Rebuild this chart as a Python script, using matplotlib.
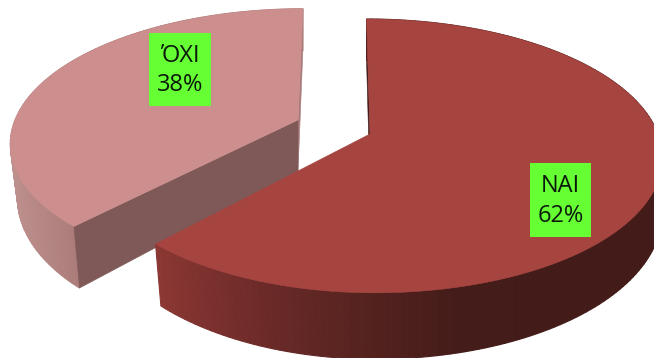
import numpy as np
import matplotlib
matplotlib.use("Agg")
import matplotlib.pyplot as plt
from matplotlib.colors import LinearSegmentedColormap, Normalize
from matplotlib.patches import Rectangle

categories = ["ΝΑΙ", "ΌΧΙ"]
shares = [62, 38]

plt.rcParams["font.family"] = ["Open Sans", "Noto Sans", "DejaVu Sans"]

fig = plt.figure(figsize=(6.54, 3.58), dpi=100)
ax = fig.add_axes([0, 0, 1, 1])
ax.set_xlim(0, 654)
ax.set_ylim(358, 0)
ax.axis("off")

K = 0.16


def project(ux, uy, cx, cy, a_left, a_right, b, shear, depth=False):
    ux, uy = np.asarray(ux, float), np.asarray(uy, float)
    den = 1 + K * uy
    a = np.where(ux < 0, a_left, a_right)
    X = a * ux / den
    Y = b * uy / den
    X = X + shear * Y
    if depth:
        scale = np.where(ux < 0, 0.975, 1.0)
        return cx + scale * X, cy - Y + 52 - 0.09 * Y
    return cx + X, cy - Y


def ring(theta, *geom, depth=False):
    return project(np.sin(theta), np.cos(theta), *geom, depth=depth)


def side(theta, geom, cmap, norm, z):
    xt, yt = ring(theta, *geom)
    xb, yb = ring(theta, *geom, depth=True)
    for i in range(len(theta) - 1):
        c = cmap(norm(0.5 * (xt[i] + xt[i + 1])))
        ax.fill([xt[i], xt[i + 1], xb[i + 1], xb[i]],
                [yt[i], yt[i + 1], yb[i + 1], yb[i]],
                color=c, lw=0.8, zorder=z)


def top(theta, geom, color, z):
    x, y = ring(theta, *geom)
    x0, y0 = project(0.0, 0.0, *geom)
    ax.fill(np.r_[x0, x], np.r_[y0, y], color=color, lw=0.4, zorder=z)


def radial_face(t, geom, color, z):
    x0, y0 = project(0.0, 0.0, *geom)
    x1, y1 = ring(np.array(t), *geom)
    x2, y2 = ring(np.array(t), *geom, depth=True)
    x3, y3 = project(0.0, 0.0, *geom, depth=True)
    ax.fill([x0, x1, x2, x3], [y0, y1, y2, y3], color=color, lw=0.4, zorder=z)


total = sum(shares)
split = 2 * np.pi * shares[0] / total

red_geom = (370, 134, 281, 288, 133.4, -0.03)
pink_geom = (298, 120, 283, 283, 129, 0.045)

pink_cmap = LinearSegmentedColormap.from_list("p", ["#bd8f8d", "#a97a78"])
red_cmap = LinearSegmentedColormap.from_list(
    "r", ["#8b3733", "#6d2b29", "#562320", "#441c19", "#431b18"])

# pink slice
th_p = np.linspace(split, 2 * np.pi, 120)
side(th_p, pink_geom, pink_cmap, Normalize(10, 80), 1)
radial_face(2 * np.pi, pink_geom, "#a87c7a", 2)
radial_face(split, pink_geom, "#7f5958", 3)
top(th_p, pink_geom, "#cd8f8e", 4)

# red slice
th_r = np.linspace(0, split, 180)
radial_face(0.0, red_geom, "#3e1a18", 5)
side(th_r, red_geom, red_cmap, Normalize(155, 560), 6)
top(th_r, red_geom, "#a64440", 7)

# labels
boxes = {"ΝΑΙ": (530, 163, 61, 74), "ΌΧΙ": (149, 33, 62, 73)}
for name, value in zip(categories, shares):
    x, y, w, h = boxes[name]
    ax.add_patch(Rectangle((x, y), w, h, fc="#66ff33", ec="none", zorder=8))
    ax.text(x + w / 2, y + h / 2 + 1, f"{name}\n{value}%", ha="center", va="center",
            fontsize=17, linespacing=1.32, color="#0a1a0a", zorder=9)

fig.savefig("out.png", dpi=100, facecolor="white")
